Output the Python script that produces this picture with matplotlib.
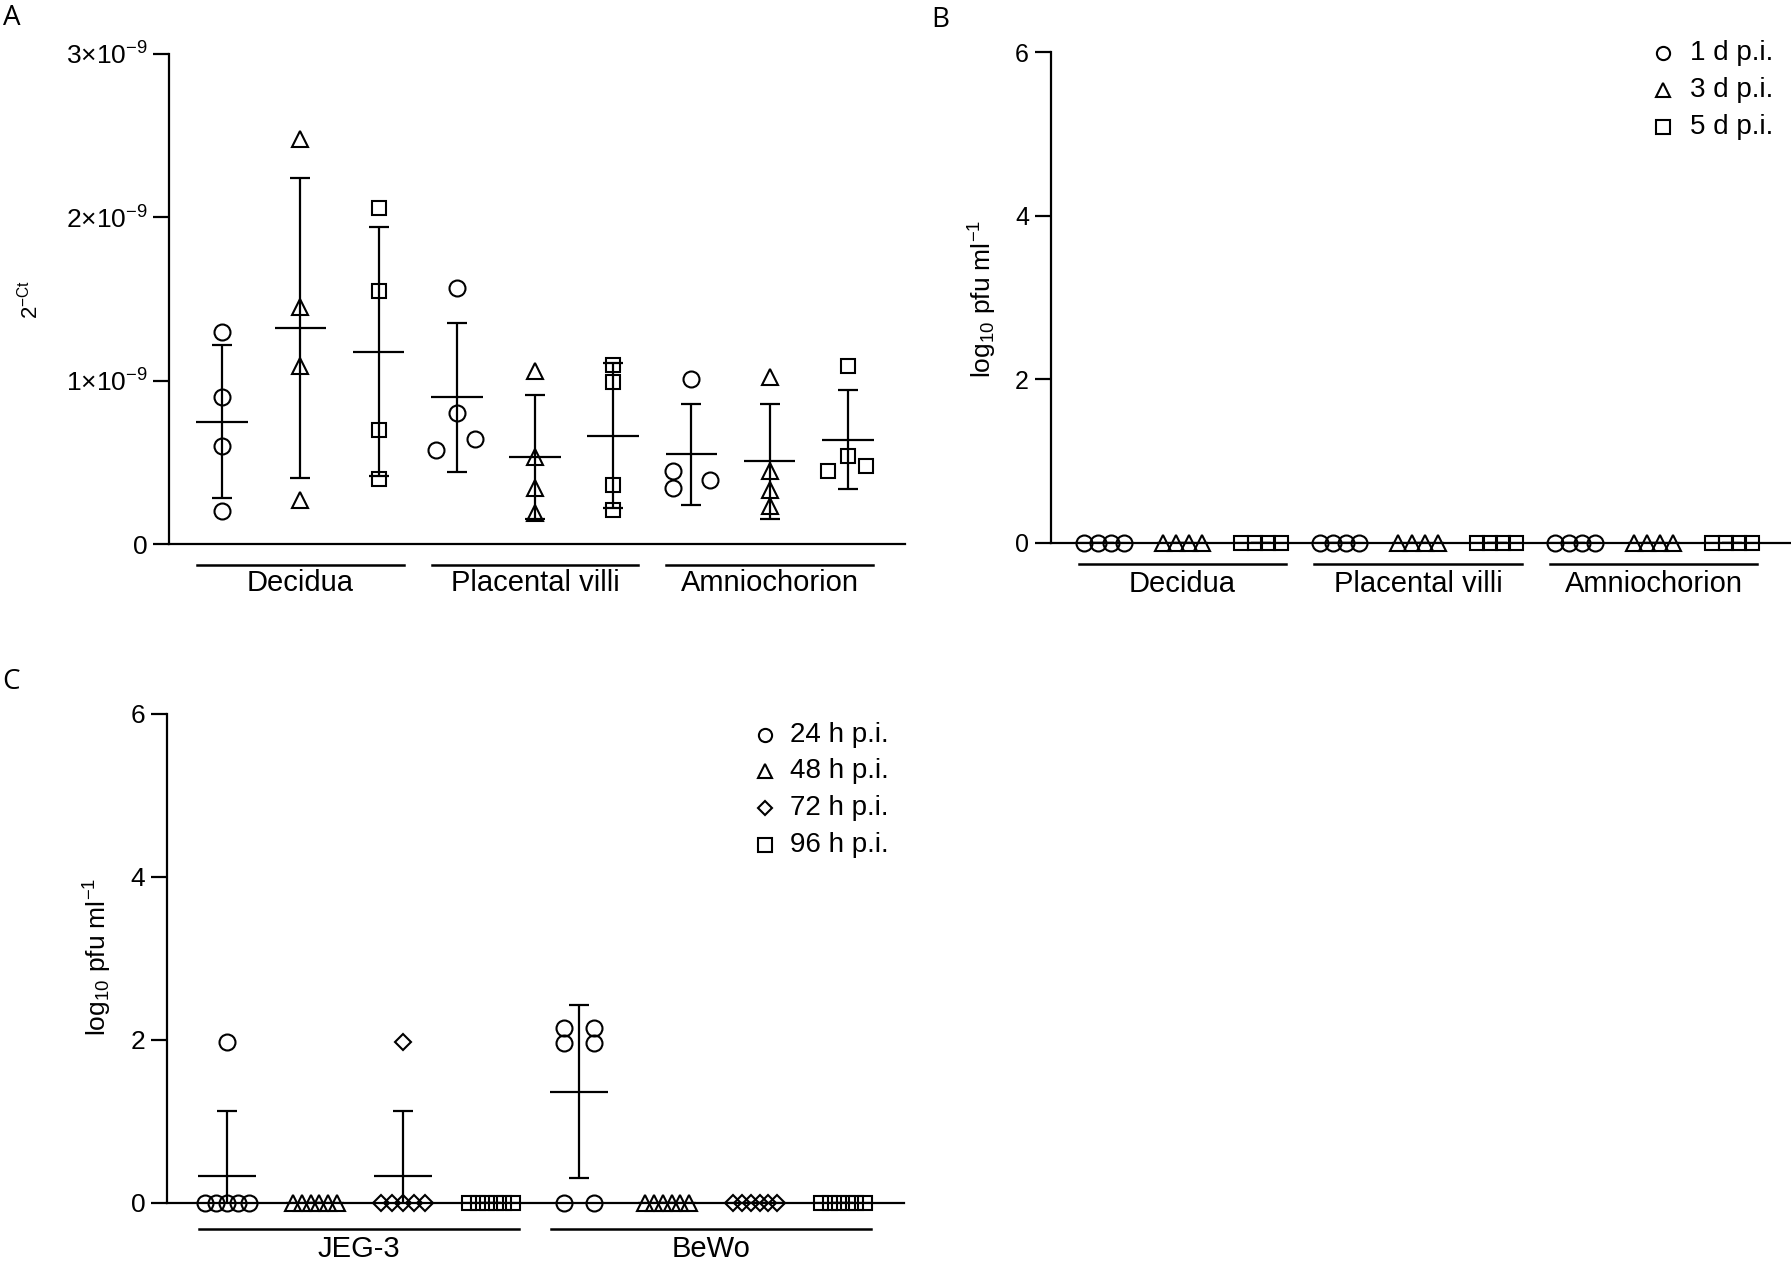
import matplotlib
matplotlib.use('Agg')
import matplotlib.pyplot as plt
import matplotlib.transforms as mtransforms
import numpy as np

plt.rcParams.update({
    'font.family': 'Liberation Sans',
    'mathtext.fontset': 'custom',
    'mathtext.rm': 'Liberation Sans',
    'mathtext.it': 'Liberation Sans:italic',
    'mathtext.bf': 'Liberation Sans:bold',
    'axes.linewidth': 1.6,
    'axes.spines.top': False,
    'axes.spines.right': False,
    'ytick.major.size': 11.5,
    'ytick.major.width': 1.6,
    'ytick.major.pad': 4,
})

W, H = 1791, 1264

# ---- panel A: 2^-Ct, values in units of 1e-9 (4 explants per column)
tissues = ['Decidua', 'Placental villi', 'Amniochorion']
days = ['1 d p.i.', '3 d p.i.', '5 d p.i.']
ct_decidua = [[1.30, 0.90, 0.60, 0.20],
              [2.48, 1.45, 1.09, 0.27],
              [2.06, 1.55, 0.70, 0.40]]
ct_villi = [[1.57, 0.80, 0.645, 0.575],
            [1.06, 0.53, 0.345, 0.19],
            [1.095, 0.99, 0.36, 0.21]]
ct_amnio = [[1.01, 0.45, 0.39, 0.345],
            [1.02, 0.445, 0.33, 0.23],
            [1.09, 0.54, 0.48, 0.445]]
ct_ticks = [0, 1, 2, 3]

# ---- panel B: log10 pfu/ml in explant supernatants (all zero)
pfu_decidua = [[0, 0, 0, 0], [0, 0, 0, 0], [0, 0, 0, 0]]
pfu_villi = [[0, 0, 0, 0], [0, 0, 0, 0], [0, 0, 0, 0]]
pfu_amnio = [[0, 0, 0, 0], [0, 0, 0, 0], [0, 0, 0, 0]]

# ---- panel C: log10 pfu/ml in cell lines (6 wells per column)
cells = ['JEG-3', 'BeWo']
hours = ['24 h p.i.', '48 h p.i.', '72 h p.i.', '96 h p.i.']
pfu_jeg3 = [[1.97, 0, 0, 0, 0, 0],
            [0, 0, 0, 0, 0, 0],
            [1.97, 0, 0, 0, 0, 0],
            [0, 0, 0, 0, 0, 0]]
pfu_bewo = [[2.14, 1.96, 2.14, 1.96, 0, 0],
            [0, 0, 0, 0, 0, 0],
            [0, 0, 0, 0, 0, 0],
            [0, 0, 0, 0, 0, 0]]
pfu_ticks = [0, 2, 4, 6]

# manual horizontal nudges (column, point index) in panel A where points nearly overlap
nudge_a = {(4, 3): -0.26, (4, 2): 0.23,
           (7, 1): -0.23, (7, 3): -0.23, (7, 2): 0.24,
           (9, 3): -0.25, (9, 2): 0.23}

marker_ms = {'o': 11.5, '^': 11.5, 's': 10.5, 'D': 7.8}
legend_ms = {'o': 9.5, '^': 9.5, 's': 9.5, 'D': 7}


def spread_ties(vals, span=0.5, max_step=0.34):
    vals = np.asarray(vals, float)
    off = np.zeros(len(vals))
    for v in np.unique(vals):
        idx = np.where(vals == v)[0]
        k = len(idx)
        if k > 1:
            step = min(max_step, span / (k - 1))
            off[idx] = (np.arange(k) - (k - 1) / 2) * step
    return off


def draw_columns(ax, groups, markers, nudge=None):
    col = 0
    for group in groups:
        for si, vals in enumerate(group):
            col += 1
            vals = np.asarray(vals, float)
            off = spread_ties(vals)
            if nudge:
                for (c, i), d in nudge.items():
                    if c == col:
                        off[i] += d
            m, sd = vals.mean(), vals.std(ddof=1)
            ax.errorbar(col, m, yerr=sd, fmt='none', ecolor='black',
                        elinewidth=1.6, capsize=7, capthick=1.6, zorder=2)
            ax.hlines(m, col - 0.33, col + 0.33, color='black', lw=1.6, zorder=2)
            ax.plot(col + off, vals, ls='none', marker=markers[si],
                    ms=marker_ms[markers[si]], mfc='none', mec='black',
                    mew=1.5, clip_on=False, zorder=3)
    return col


def group_labels(ax, names, per, line_y, text_y, fs=21):
    tr = mtransforms.blended_transform_factory(ax.transData, ax.transAxes)
    for gi, name in enumerate(names):
        first = 1 + gi * per
        last = first + per - 1
        ax.plot([first - 0.32, last + 0.32], [line_y, line_y], color='black',
                lw=1.8, transform=tr, clip_on=False)
        ax.text((first + last) / 2, text_y, name, transform=tr, ha='center',
                va='center', fontsize=fs)


def legend_rows(fig, labels, markers, mx, tx, ys, fs=20):
    for lab, mk, y in zip(labels, markers, ys):
        fig.lines.append(plt.Line2D([mx / W], [1 - y / H], transform=fig.transFigure,
                                    ls='none', marker=mk, ms=legend_ms[mk],
                                    mfc='none', mec='black', mew=1.5))
        fig.text(tx / W, 1 - y / H, lab, ha='left', va='center', fontsize=fs)


def axes_px(fig, x0, x1, ytop, ybot):
    return fig.add_axes([x0 / W, 1 - ybot / H, (x1 - x0) / W, (ybot - ytop) / H])


fig = plt.figure(figsize=(W / 100, H / 100), dpi=100)

# ---------------- A
axA = axes_px(fig, 169, 905, 54, 544)
draw_columns(axA, [ct_decidua, ct_villi, ct_amnio], ['o', '^', 's'], nudge=nudge_a)
axA.set_xlim(0.32, 9.73)
axA.set_ylim(0, 3)
axA.set_xticks([])
axA.set_yticks(ct_ticks)
axA.set_yticklabels(['0'] + [r'$%d{\times}10^{-9}$' % t for t in ct_ticks[1:]], fontsize=19)
axA.text(-0.189, 0.5, r'$2^{-\mathrm{Ct}}$', transform=axA.transAxes, rotation=90,
         ha='center', va='center', fontsize=16)
group_labels(axA, tissues, 3, -0.042, -0.080)

# ---------------- B
axB = axes_px(fig, 1050.5, 1791, 52, 543)
draw_columns(axB, [pfu_decidua, pfu_villi, pfu_amnio], ['o', '^', 's'])
axB.set_xlim(0.318, 9.75)
axB.set_ylim(0, 6)
axB.set_xticks([])
axB.set_yticks(pfu_ticks)
axB.tick_params(axis='y', labelsize=18)
axB.text(-0.091, 0.497, r'log$_{10}$ pfu ml$^{-1}$', transform=axB.transAxes,
         rotation=90, ha='center', va='center', fontsize=19)
group_labels(axB, tissues, 3, -0.043, -0.083)
legend_rows(fig, days, ['o', '^', 's'], 1663, 1690, [53, 90, 127])

# ---------------- C
axC = axes_px(fig, 167, 904, 713.6, 1203)
draw_columns(axC, [pfu_jeg3, pfu_bewo], ['o', '^', 'D', 's'])
axC.set_xlim(0.318, 8.69)
axC.set_ylim(0, 6)
axC.set_xticks([])
axC.set_yticks(pfu_ticks)
axC.tick_params(axis='y', labelsize=19)
axC.text(-0.094, 0.502, r'log$_{10}$ pfu ml$^{-1}$', transform=axC.transAxes,
         rotation=90, ha='center', va='center', fontsize=19)
group_labels(axC, cells, 4, -0.053, -0.094)
legend_rows(fig, hours, ['o', '^', 'D', 's'], 765, 790, [735, 771, 808, 845])

# panel letters
for letter, (x, y) in zip('ABC', [(3, 4), (931, 6), (2, 668)]):
    fig.text(x / W, 1 - y / H, letter, ha='left', va='top', fontsize=20,
             family='Open Sans')

fig.savefig('out.png', dpi=100)
